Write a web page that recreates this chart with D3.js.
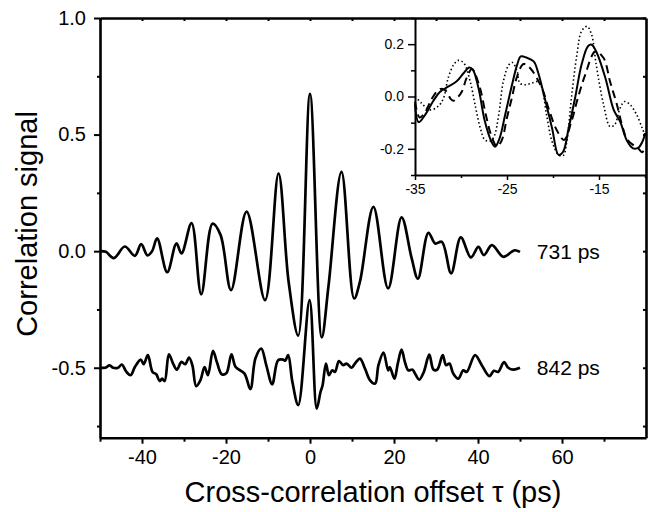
<!DOCTYPE html>
<html>
<head>
<meta charset="utf-8">
<script src="https://cdn.jsdelivr.net/npm/d3@7"></script>
<style>
  body { margin: 0; background: #fff; }
  svg text { font-family: "Liberation Sans", Arial, sans-serif; fill: #000; }
  .axis path, .axis line { stroke: #000; fill: none; }
</style>
</head>
<body>
<div id="viz"></div>
<script>
// main panel: 731 ps trace
var tau731 = [-50, -48.6, -46.7, -44.1, -41.7, -40.2, -38.7, -37.6, -36.4, -34, -31.8, -30.6, -28.2, -25.9,
    -23.2, -21.3, -18.8, -15.1, -10.7, -7.5, -5.1, -2.8, 0, 2.8, 4.4, 7.5, 10.5, 11.9, 15.1, 18.6, 21.8,
    24.2, 25.7, 28.2, 29.8, 31.4, 33.6, 35.9, 38.3, 40.1, 41.4, 43.3, 46, 48, 48.8, 50];
var sig731 = [0, -0.003, -0.03, 0.02, -0.02, 0.03, -0.018, 0, 0.055, -0.09, 0.033, -0.01, 0.12, -0.185,
    0.118, 0.07, -0.167, 0.17, -0.21, 0.333, -0.13, -0.362, 0.675, -0.37, -0.15, 0.34, -0.203, -0.13, 0.19, -0.16, 0.145,
    -0.03, -0.118, 0.079, 0.033, 0.04, -0.095, 0.059, -0.027, 0.018, -0.017, 0.026, -0.024, -0.003, 0.004, -0.003];

// main panel: 842 ps trace (raw values, plotted shifted down)
var tau842 = [-50, -48.8, -47.7, -46.9, -45.7, -44.8, -43.7, -42.7, -41.7, -40.3, -39.6, -38.6, -37.5, -36.6,
    -35.8, -35.2, -34.6, -33.6, -32.6, -31.7, -30.6, -29.7, -28.8, -28, -27.1, -26.1, -25.1, -24.3, -23.1,
    -22.1, -21, -19.9, -18.7, -17.7, -15.6, -14.2, -13, -11.6, -10.4, -9, -7.6, -6.4, -5.9, -5.2, -4.2,
    -2.8, -0.1, 1.6, 2.5, 3, 3.8, 4.5, 5.3, 5.95, 6.9, 7.9, 8.7, 9.9, 10.7, 11.9, 13.1, 14.3, 15.5, 16.3,
    17.5, 18.6, 19, 20.1, 20.9, 21.8, 22.6, 23.4, 24.4, 25, 26, 27.1, 28.4, 29.4, 30.3, 31.6, 32.4, 33.2,
    34.1, 35.3, 36.5, 37.3, 39.3, 40.9, 42.7, 43.8, 44.8, 46.2, 47.2, 48.4, 50];
var sig842 = [0, 0, 0.01, 0, 0, 0.014, -0.018, -0.032, 0.003, 0.035, 0.015, 0.054, -0.018, -0.028,
    -0.057, -0.047, -0.057, 0.058, 0.018, -0.008, 0.025, 0.015, 0.044, 0.01, -0.079, -0.054, 0.003, -0.032, 0.072,
    0.02, -0.028, -0.023, 0.058, 0.003, -0.025, -0.092, 0.04, 0.082, 0.01, -0.071, 0.032, 0.035, 0.03, 0.054, -0.06,
    -0.16, 0.29, -0.175, -0.104, -0.075, 0.018, -0.032, -0.011, -0.018, 0.029, 0.011, 0.018, 0, 0.018, 0.039, -0.004, -0.054, -0.068, 0.011,
    0.065, -0.011, 0.003, -0.047, 0.018, 0.078, 0.024, -0.011, -0.008, -0.025, -0.051, -0.018, 0.056, -0.008, -0.008, 0.054, 0.011, 0.018,
    -0.025, -0.047, -0.011, -0.018, 0.054, 0.011, -0.036, -0.013, -0.018, 0.024, 0, -0.008, 0];

var traceLabels = ["731 ps", "842 ps"];
var traceOffsets = [0, -0.5];

var xTicks = [-40, -20, 0, 20, 40, 60];
var xMinor = [-50, -30, -10, 10, 30, 50, 70];
var yTicks = [-0.5, 0.0, 0.5, 1.0];
var yMinor = [-0.75, -0.25, 0.25, 0.75];

// inset: three traces
var insetTauSolid = [-35, -34.6, -33.9, -33, -32.3, -31.4, -30.5, -29.7, -29.1, -28.7, -28.1, -27.4, -26.7, -26.3,
    -25.8, -25.2, -24.5, -23.9, -23.5, -22.9, -22.1, -21.6, -20.9, -20.1, -19.4, -18.9, -18.3, -17.6, -16.9,
    -16.2, -15.8, -15.3, -14.3, -13.4, -12.7, -12, -11.3, -10.7, -10.2, -10];
var insetSolid = [-0.03, -0.098, -0.07, -0.016, 0.017, 0.038, 0.057, 0.09, 0.111, 0.102, 0.032, -0.096, -0.172, -0.192,
    -0.159, -0.07, 0.038, 0.121, 0.153, 0.149, 0.134, 0.09, -0.006, -0.121, -0.223, -0.211, -0.121, -0.006, 0.121,
    0.192, 0.198, 0.172, 0.07, -0.051, -0.096, -0.166, -0.198, -0.195, -0.166, -0.14];

var insetTauDash = [-35, -34.5, -33.9, -33.2, -32.6, -32.1, -31.6, -31.1, -30.8, -30.4, -29.9, -29.4, -28.8, -28,
    -27.3, -26.7, -26.1, -25.6, -25, -24.5, -23.9, -23.2, -22.5, -21.2, -20.5, -19.6, -18.8, -18, -17.3,
    -16.5, -15.4, -14.5, -13.8, -13.1, -12.4, -11.9, -10.7, -10.3, -10];
var insetDash = [-0.02, -0.08, -0.06, -0.01, 0.02, 0.03, 0.02, -0.01, -0.016, -0.005, 0.019, 0.07, 0.105, 0.04,
    -0.07, -0.15, -0.19, -0.17, -0.08, -0.01, 0.077, 0.124, 0.109, 0.032, -0.044, -0.128, -0.166, -0.096, -0.006,
    0.083, 0.172, 0.147, 0.057, -0.025, -0.121, -0.166, -0.2, -0.213, -0.19];

var insetTauDot = [-35, -34.3, -33.4, -32.5, -31.9, -31.4, -30.8, -30.3, -29.7, -29, -28.4, -27.9, -27.4, -26.8,
    -26.4, -25.9, -25.4, -24.8, -24.4, -23.9, -23.6, -23, -22.3, -21.6, -21.2, -20.7, -20.1, -19.4, -18.9,
    -18.5, -18, -17.4, -16.9, -16.3, -15.8, -15.3, -14.5, -13.8, -13.3, -12.7, -12.2, -11.6, -10.9, -10.3, -10];
var insetDot = [0, -0.025, -0.051, -0.038, -0.006, 0.07, 0.121, 0.138, 0.128, 0.057, -0.044, -0.121, -0.166, -0.17,
    -0.153, -0.07, 0.057, 0.121, 0.13, 0.096, 0.051, 0.045, 0.051, 0.057, 0.032, -0.07, -0.172, -0.223, -0.226,
    -0.172, -0.006, 0.16, 0.249, 0.268, 0.236, 0.121, -0.032, -0.115, -0.108, -0.044, -0.019, -0.032, -0.07, -0.121, -0.147];

var insetXTicks = [-35, -25, -15];
var insetXMinor = [-30, -20, -10];
var insetYTicks = [-0.2, 0.0, 0.2];
var insetYMinor = [-0.3, -0.1, 0.1, 0.3];

var width = 652, height = 512;

var svg = d3.select('#viz').append('svg')
    .attr('width', width)
    .attr('height', height);

var x = d3.scaleLinear().domain([-50, 80]).range([100, 646]);
var y = d3.scaleLinear().domain([-0.8, 1.0]).range([437.7, 18]);

var fmt1 = function(d) { return d.toFixed(1); };

function zip(t, v, off) {
    return t.map(function(d, i) { return [d, v[i] + (off || 0)]; });
}

var mainLine = d3.line()
    .x(function(d) { return x(d[0]); })
    .y(function(d) { return y(d[1]); })
    .curve(d3.curveCatmullRom.alpha(0.5));

var traces = [zip(tau731, sig731, traceOffsets[0]), zip(tau842, sig842, traceOffsets[1])];

svg.selectAll('path.trace')
    .data(traces)
    .enter().append('path')
    .attr('class', 'trace')
    .attr('d', mainLine)
    .attr('fill', 'none')
    .attr('stroke', '#000')
    .attr('stroke-width', 2.7)
    .attr('stroke-linejoin', 'round');

svg.selectAll('text.trace-label')
    .data(traceLabels)
    .enter().append('text')
    .attr('class', 'trace-label')
    .attr('x', x(54))
    .attr('y', function(d, i) { return y(traceOffsets[i]); })
    .attr('dy', '0.36em')
    .style('font-size', '21px')
    .text(function(d) { return d; });

// ---- inset ----
var ix = d3.scaleLinear().domain([-35, -10]).range([415, 645]);
var iy = d3.scaleLinear().domain([-0.3, 0.3]).range([175, 18]);

var inset = svg.append('g').attr('class', 'inset');

inset.append('rect')
    .attr('x', ix(-35))
    .attr('y', iy(0.3))
    .attr('width', ix(-10) - ix(-35))
    .attr('height', iy(-0.3) - iy(0.3))
    .attr('fill', '#fff');

var insetLine = d3.line()
    .x(function(d) { return ix(d[0]); })
    .y(function(d) { return iy(d[1]); })
    .curve(d3.curveCatmullRom.alpha(0.5));

var insetSeries = [
    {data: zip(insetTauDot, insetDot), width: 1.6, dash: '1.5,2.5'},
    {data: zip(insetTauDash, insetDash), width: 2, dash: '8,5'},
    {data: zip(insetTauSolid, insetSolid), width: 2, dash: null}
];

inset.selectAll('path.iseries')
    .data(insetSeries)
    .enter().append('path')
    .attr('class', 'iseries')
    .attr('d', function(d) { return insetLine(d.data); })
    .attr('fill', 'none')
    .attr('stroke', '#000')
    .attr('stroke-width', function(d) { return d.width; })
    .attr('stroke-dasharray', function(d) { return d.dash; });

// inset axes
inset.append('g')
    .attr('class', 'axis')
    .attr('transform', 'translate(0,' + iy(-0.3) + ')')
    .call(d3.axisBottom(ix).tickValues(insetXMinor).tickSize(3).tickFormat(''))
    .call(function(g) { g.select('.domain').remove(); })
    .selectAll('line').attr('stroke-width', 1.5);

var ixAxis = inset.append('g')
    .attr('class', 'axis')
    .attr('transform', 'translate(0,' + iy(-0.3) + ')')
    .call(d3.axisBottom(ix).tickValues(insetXTicks).tickSize(5).tickSizeOuter(0).tickPadding(4)
        .tickFormat(function(d) { return String(d); }));
ixAxis.select('.domain').attr('stroke-width', 2);
ixAxis.selectAll('line').attr('stroke-width', 1.5);
ixAxis.selectAll('text').style('font-size', '14px');

inset.append('g')
    .attr('class', 'axis')
    .attr('transform', 'translate(' + ix(-35) + ',0)')
    .call(d3.axisLeft(iy).tickValues(insetYMinor).tickSize(4).tickFormat(''))
    .call(function(g) { g.select('.domain').remove(); })
    .selectAll('line').attr('stroke-width', 1.5);

var iyAxis = inset.append('g')
    .attr('class', 'axis')
    .attr('transform', 'translate(' + ix(-35) + ',0)')
    .call(d3.axisLeft(iy).tickValues(insetYTicks).tickSize(7).tickSizeOuter(0).tickPadding(4).tickFormat(fmt1));
iyAxis.select('.domain').attr('stroke-width', 2);
iyAxis.selectAll('line').attr('stroke-width', 1.5);
iyAxis.selectAll('text').style('font-size', '14px');

// ---- main axes ----
function styleAxis(g, w) {
    g.select('.domain').attr('stroke-width', w);
    g.selectAll('line').attr('stroke-width', 2);
    g.selectAll('text').style('font-size', '20px');
}

// minor ticks
svg.append('g').attr('class', 'axis')
    .attr('transform', 'translate(0,' + y(-0.8) + ')')
    .call(d3.axisBottom(x).tickValues(xMinor).tickSize(4).tickFormat(''))
    .call(function(g) { g.select('.domain').remove(); g.selectAll('line').attr('stroke-width', 2); });

svg.append('g').attr('class', 'axis')
    .attr('transform', 'translate(' + x(-50) + ',0)')
    .call(d3.axisLeft(y).tickValues(yMinor).tickSize(3).tickFormat(''))
    .call(function(g) { g.select('.domain').remove(); g.selectAll('line').attr('stroke-width', 2); });

var xAxis = svg.append('g').attr('class', 'axis')
    .attr('transform', 'translate(0,' + y(-0.8) + ')')
    .call(d3.axisBottom(x).tickValues(xTicks).tickSize(6).tickSizeOuter(0).tickPadding(6)
        .tickFormat(function(d) { return String(d); }));
styleAxis(xAxis, 2.6);

var yAxis = svg.append('g').attr('class', 'axis')
    .attr('transform', 'translate(' + x(-50) + ',0)')
    .call(d3.axisLeft(y).tickValues(yTicks).tickSize(6).tickSizeOuter(0).tickPadding(8).tickFormat(fmt1));
styleAxis(yAxis, 2.6);

// mirrored top and right axes, ticks pointing in
var topAxis = svg.append('g').attr('class', 'axis')
    .attr('transform', 'translate(0,' + y(1.0) + ')')
    .call(d3.axisBottom(x).tickValues(xTicks.concat(xMinor)).tickSize(3).tickSizeOuter(0).tickFormat(''));
styleAxis(topAxis, 2.6);

var rightAxis = svg.append('g').attr('class', 'axis')
    .attr('transform', 'translate(' + x(80) + ',0)')
    .call(d3.axisLeft(y).tickValues(yTicks.concat(yMinor)).tickSize(3).tickSizeOuter(0).tickFormat(''));
styleAxis(rightAxis, 2.6);

// axis titles
svg.append('text')
    .attr('x', (x(-50) + x(80)) / 2)
    .attr('y', 502)
    .attr('text-anchor', 'middle')
    .style('font-size', '29px')
    .text('Cross-correlation offset τ (ps)');

svg.append('text')
    .attr('transform', 'translate(37,' + 224 + ') rotate(-90)')
    .attr('text-anchor', 'middle')
    .style('font-size', '29px')
    .text('Correlation signal');
</script>
</body>
</html>
